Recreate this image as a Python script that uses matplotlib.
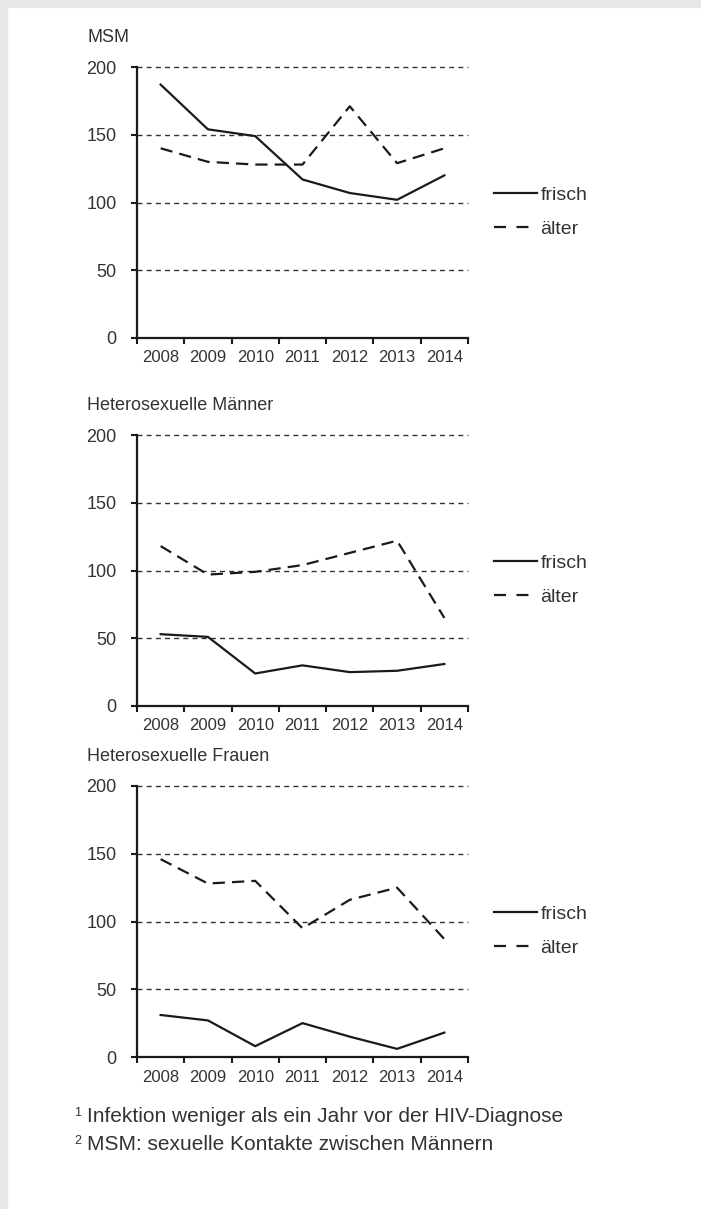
import matplotlib.pyplot as plt
import matplotlib.patches as mpatches
from matplotlib.lines import Line2D

plt.rcParams['font.family'] = ['Liberation Sans', 'DejaVu Sans']

# data
years = ['2008', '2009', '2010', '2011', '2012', '2013', '2014']
titles = ['MSM', 'Heterosexuelle Männer', 'Heterosexuelle Frauen']
frisch_msm = [187, 154, 149, 117, 107, 102, 120]
aelter_msm = [140, 130, 128, 128, 171, 129, 140]
frisch_hm = [53, 51, 24, 30, 25, 26, 31]
aelter_hm = [118, 97, 99, 104, 113, 122, 65]
frisch_hf = [31, 27, 8, 25, 15, 6, 18]
aelter_hf = [146, 128, 130, 95, 116, 125, 87]
yticks = [0, 50, 100, 150, 200]
series_names = ['frisch', 'älter']
footnotes = ['Infektion weniger als ein Jahr vor der HIV-Diagnose',
             'MSM: sexuelle Kontakte zwischen Männern']

panels = [(frisch_msm, aelter_msm), (frisch_hm, aelter_hm), (frisch_hf, aelter_hf)]

txt = '#333333'
ink = '#1a1a1a'
W, H = 701, 1209

fig = plt.figure(figsize=(W / 100, H / 100), dpi=100)
fig.patch.set_facecolor('white')
# grey frame strips top and left
fig.patches.append(mpatches.Rectangle((0, 1 - 7 / H), 1, 7 / H, transform=fig.transFigure,
                                      color='#e6e7e8', zorder=0))
fig.patches.append(mpatches.Rectangle((0, 0), 7 / W, 1, transform=fig.transFigure,
                                      color='#e6e7e8', zorder=0))

# legend handles (dash pattern so only two dashes show)
handles = [Line2D([], [], color=ink, lw=1.6),
           Line2D([], [], color=ink, lw=1.6, linestyle=(0, (5.4, 4.7)))]

tops = [67, 435, 786]
for (fr, al), title, top in zip(panels, titles, tops):
    ax = fig.add_axes([137 / W, 1 - (top + 271) / H, 331 / W, 271 / H])
    x = list(range(len(years)))
    for yv in yticks[1:]:
        ax.axhline(yv, color='#333333', lw=1.0, linestyle=(0, (3.6, 3.0)), clip_on=False, zorder=1)
    ax.plot(x, fr, color=ink, lw=1.6, zorder=3)
    ax.plot(x, al, color=ink, lw=1.6, linestyle=(0, (5.5, 3.2)), zorder=3)

    ax.set_xlim(-0.5, len(years) - 0.5)
    ax.set_ylim(0, 200)
    ax.set_yticks(yticks)
    ax.set_yticklabels([str(v) for v in yticks])
    ax.set_xticks([i - 0.5 for i in range(len(years) + 1)])
    ax.set_xticklabels([])
    ax.set_xticks(x, minor=True)
    ax.set_xticklabels(years, minor=True)
    ax.tick_params(axis='y', length=4.5, width=1.5, color=ink, pad=10, labelsize=13, labelcolor=txt)
    ax.tick_params(axis='x', which='major', length=4, width=1.5, color=ink, direction='out')
    ax.tick_params(axis='x', which='minor', length=0, pad=9, labelsize=12, labelcolor=txt)
    for s in ['top', 'right']:
        ax.spines[s].set_visible(False)
    for s in ['left', 'bottom']:
        ax.spines[s].set_linewidth(1.6)
        ax.spines[s].set_color(ink)
    ax.text(-0.151, 1.11, title, transform=ax.transAxes, ha='left', va='center',
            fontsize=13, color=txt)
    ax.legend(handles, series_names, loc='center left', bbox_to_anchor=(1.078, 0.465),
              frameon=False, borderpad=0, borderaxespad=0, handlelength=2.2,
              handletextpad=0.2, labelspacing=0.85, fontsize=14, labelcolor=txt)

for i, note in enumerate(footnotes):
    yy = 1 - (1117 + i * 28) / H
    fig.text(74 / W, yy + 4 / H, str(i + 1), fontsize=9, color=txt, ha='left', va='center')
    fig.text(87 / W, yy, note, fontsize=15, color=txt, ha='left', va='center')

fig.savefig('out.png', dpi=100)
